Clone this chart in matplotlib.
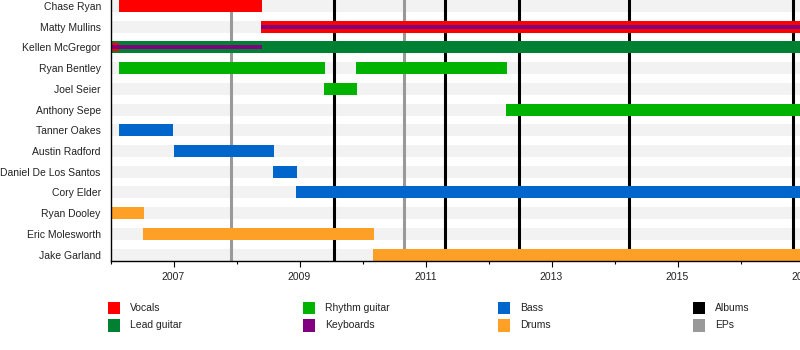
import matplotlib
matplotlib.use("Agg")
import matplotlib.pyplot as plt
from matplotlib.patches import Rectangle

plt.rcParams["font.family"] = ["Liberation Sans", "DejaVu Sans"]

# band members, top to bottom
members = [
    "Chase Ryan", "Matty Mullins", "Kellen McGregor", "Ryan Bentley",
    "Joel Seier", "Anthony Sepe", "Tanner Oakes", "Austin Radford",
    "Daniel De Los Santos", "Cory Elder", "Ryan Dooley",
    "Eric Molesworth", "Jake Garland",
]

# one entry per bar segment (tier 0 = main role, 1/2 = thinner overlays)
bar_member = [
    "Chase Ryan", "Matty Mullins", "Matty Mullins",
    "Kellen McGregor", "Kellen McGregor", "Kellen McGregor",
    "Ryan Bentley", "Ryan Bentley", "Joel Seier", "Anthony Sepe",
    "Tanner Oakes", "Austin Radford", "Daniel De Los Santos", "Cory Elder",
    "Ryan Dooley", "Eric Molesworth", "Jake Garland",
]
bar_role = [
    "Vocals", "Vocals", "Keyboards",
    "Lead guitar", "Vocals", "Keyboards",
    "Rhythm guitar", "Rhythm guitar", "Rhythm guitar", "Rhythm guitar",
    "Bass", "Bass", "Bass", "Bass",
    "Drums", "Drums", "Drums",
]
bar_start = [
    2006.13, 2008.39, 2008.39,
    2006.0, 2006.0, 2006.0,
    2006.13, 2009.90, 2009.39, 2012.28,
    2006.13, 2007.0, 2008.58, 2008.95,
    2006.0, 2006.52, 2010.17,
]
bar_end = [
    2008.41, 2018.0, 2018.0,
    2018.0, 2006.13, 2008.41,
    2009.41, 2012.29, 2009.91, 2018.0,
    2007.0, 2008.6, 2008.96, 2018.0,
    2006.53, 2010.18, 2018.0,
]
bar_tier = [0, 0, 2, 0, 1, 2, 0, 0, 0, 0, 0, 0, 0, 0, 0, 0, 0]

album_dates = [2009.55, 2011.31, 2012.48, 2014.23, 2016.83]
ep_dates = [2007.91, 2010.66]

role_colors = {
    "Vocals": "#ff0000",
    "Lead guitar": "#008033",
    "Rhythm guitar": "#00b300",
    "Keyboards": "#800080",
    "Bass": "#0066cc",
    "Drums": "#ffa026",
}
legend_items = [
    ("Vocals", "#ff0000"), ("Lead guitar", "#008033"),
    ("Rhythm guitar", "#00b300"), ("Keyboards", "#800080"),
    ("Bass", "#0066cc"), ("Drums", "#ffa026"),
    ("Albums", "#000000"), ("EPs", "#999999"),
]

px_row = 20.75
bar_h = 12 / px_row
tier_h = {0: bar_h, 1: bar_h * 8 / 12, 2: bar_h * 4 / 12}

fig = plt.figure(figsize=(8, 3.5), dpi=100)
ax = fig.add_axes([110.5 / 800, 89.5 / 350, 756 / 800, 260.5 / 350])

n = len(members)
ypos = {m: n - 1 - i for i, m in enumerate(members)}

for m in members:
    y = ypos[m]
    ax.axhspan(y - bar_h / 2, y + bar_h / 2, color="#f2f2f2", lw=0, zorder=0)

for x in ep_dates:
    ax.axvline(x, color="#999999", lw=2.2, zorder=1)
for x in album_dates:
    ax.axvline(x, color="#000000", lw=2.2, zorder=1)

# draw main bars first, then overlays
order = sorted(range(len(bar_member)), key=lambda i: bar_tier[i])
for i in order:
    ax.barh(ypos[bar_member[i]], bar_end[i] - bar_start[i], left=bar_start[i],
            height=tier_h[bar_tier[i]], color=role_colors[bar_role[i]],
            lw=0, zorder=2 + bar_tier[i])

ax.set_xlim(2006, 2018)
ax.set_ylim(-bar_h / 2, n - 1 + bar_h / 2)
ax.set_yticks([ypos[m] for m in members])
ax.set_yticklabels(members, fontsize=7.5, color="#222222")
ax.tick_params(axis="y", length=0, pad=7)
ax.set_xticks(range(2007, 2018, 2))
ax.set_xticks(range(2006, 2019, 2), minor=True)
ax.tick_params(axis="x", which="major", length=4, width=0.8, labelsize=7.5,
               labelcolor="#222222", pad=4)
ax.tick_params(axis="x", which="minor", length=2, width=0.8)
for side in ("top", "right"):
    ax.spines[side].set_visible(False)
for side in ("left", "bottom"):
    ax.spines[side].set_linewidth(1.0)
    ax.spines[side].set_zorder(5)

# legend: 4 columns x 2 rows
col_x = [108, 303, 498, 693]
row_y = [35.7, 18.3]
for k, (label, color) in enumerate(legend_items):
    cx = col_x[k // 2]
    cy = row_y[k % 2]
    fig.add_artist(Rectangle((cx / 800, cy / 350), 12.4 / 800, 12.4 / 350,
                             transform=fig.transFigure, color=color, lw=0))
    fig.text((cx + 22.4) / 800, (cy + 6.2) / 350, label, fontsize=7.5,
             color="#222222", va="center", ha="left")

fig.savefig("out.png", dpi=100)
